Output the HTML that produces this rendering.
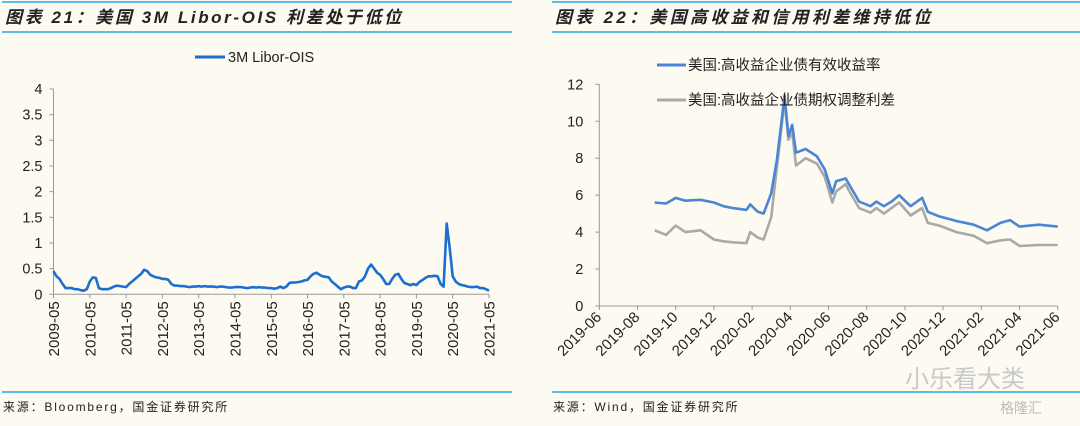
<!DOCTYPE html>
<html><head><meta charset="utf-8">
<style>
body{margin:0;background:#fdfaf1;width:1080px;height:426px;overflow:hidden;font-family:"Liberation Sans","Noto Sans CJK SC",sans-serif}
svg{display:block}
</style></head>
<body>
<svg width="1080" height="426" viewBox="0 0 1080 426" xmlns="http://www.w3.org/2000/svg">
<rect width="1080" height="426" fill="#fdfaf1"/>
<g id="left">
<line x1="2" y1="2" x2="512" y2="2" stroke="#2aa8e8" stroke-width="1.5"/>
<line x1="2" y1="32" x2="512" y2="32" stroke="#2aa8e8" stroke-width="1.5"/>
<text x="5" y="23" font-size="17" font-style="italic" font-weight="bold" fill="#222" letter-spacing="2.6">图表 21：美国 3M Libor-OIS 利差处于低位</text>
<line x1="195" y1="57" x2="225" y2="57" stroke="#1b6fd0" stroke-width="3"/>
<text x="228" y="62" font-size="14.5" fill="#222">3M Libor-OIS</text>
<g id="laxis"></g>
<path id="lline" fill="none" stroke="#1b6fd0" stroke-width="2.6" stroke-linejoin="round"/>
<line x1="2" y1="392" x2="512" y2="392" stroke="#2aa8e8" stroke-width="1.5"/>
<text x="3" y="411" font-size="12" fill="#222" letter-spacing="1.8">来源：Bloomberg，国金证券研究所</text>
</g>
<g id="right">
<line x1="552" y1="2" x2="1080" y2="2" stroke="#2aa8e8" stroke-width="1.5"/>
<line x1="552" y1="32" x2="1080" y2="32" stroke="#2aa8e8" stroke-width="1.5"/>
<text x="555" y="23" font-size="17" font-style="italic" font-weight="bold" fill="#222" letter-spacing="3.3">图表 22：美国高收益和信用利差维持低位</text>
<g id="raxis"></g>
<path id="gline" fill="none" stroke="#a9a9a9" stroke-width="2.6" stroke-linejoin="round"/>
<path id="bline" fill="none" stroke="#4a86d4" stroke-width="2.6" stroke-linejoin="round"/>
<line x1="657" y1="65" x2="686" y2="65" stroke="#4a86d4" stroke-width="3"/>
<text x="688" y="70" font-size="14.5" fill="#222">美国:高收益企业债有效收益率</text>
<line x1="657" y1="100" x2="686" y2="100" stroke="#a9a9a9" stroke-width="3"/>
<text x="688" y="105" font-size="14.5" fill="#222">美国:高收益企业债期权调整利差</text>
<text x="905" y="387" font-size="24" fill="#c8c8c8">小乐看大类</text>
<line x1="552" y1="392" x2="1080" y2="392" stroke="#2aa8e8" stroke-width="1.5"/>
<text x="553" y="411" font-size="12" fill="#222" letter-spacing="1.8">来源：Wind，国金证券研究所</text>
<text x="1000" y="413" font-size="14" fill="#bbb">格隆汇</text>
</g>
</svg>
<script>
// Left chart data: monthly from 2009-05
const liborVals=[0.45,0.35,0.3,0.2,0.12,0.12,0.12,0.1,
0.1,0.08,0.07,0.1,0.25,0.33,0.32,0.12,0.1,0.1,0.1,0.12,
0.15,0.17,0.16,0.15,0.14,0.2,0.25,0.3,0.35,0.4,0.48,0.45,
0.38,0.35,0.33,0.32,0.3,0.3,0.28,0.2,0.17,0.17,0.16,0.16,
0.15,0.14,0.15,0.15,0.16,0.15,0.16,0.15,0.15,0.15,0.14,0.15,
0.15,0.14,0.13,0.13,0.14,0.14,0.14,0.13,0.12,0.13,0.14,0.13,
0.14,0.13,0.13,0.12,0.12,0.11,0.12,0.15,0.12,0.15,0.22,0.23,
0.23,0.24,0.25,0.27,0.28,0.35,0.4,0.42,0.38,0.35,0.34,0.33,
0.25,0.2,0.15,0.1,0.13,0.15,0.15,0.12,0.12,0.25,0.27,0.35,
0.5,0.58,0.5,0.42,0.38,0.3,0.2,0.2,0.3,0.38,0.4,0.3,
0.22,0.2,0.18,0.2,0.18,0.24,0.28,0.32,0.35,0.35,0.36,0.35,
0.2,0.15,1.38,0.9,0.35,0.25,0.2,0.18,0.17,0.15,0.14,0.14,
0.15,0.12,0.12,0.1,0.07];
const liborYTicks=["0","0.5","1","1.5","2","2.5","3","3.5","4"];
const liborXTicks=["2009-05","2010-05","2011-05","2012-05","2013-05","2014-05","2015-05","2016-05","2017-05","2018-05","2019-05","2020-05","2021-05"];
// Right chart data: months since 2019-06
const hyDates=[2.9,3.5,4.0,4.5,5.3,6.0,6.5,7.0,7.7,7.9,8.3,8.6,9.0,9.3,9.7,9.9,10.1,10.3,10.8,11.4,11.8,12.2,12.4,12.9,13.1,13.6,14.2,14.5,14.9,15.3,15.7,16.3,16.9,17.2,17.8,18.7,19.6,20.3,21.0,21.5,22.0,23.0,24.0];
const hyYield=[5.6,5.55,5.85,5.7,5.75,5.6,5.4,5.3,5.2,5.5,5.1,5.0,6.1,7.9,11.4,9.2,9.8,8.3,8.5,8.1,7.4,6.1,6.75,6.9,6.55,5.65,5.4,5.65,5.4,5.65,6.0,5.4,5.85,5.1,4.85,4.6,4.4,4.1,4.5,4.65,4.3,4.4,4.3];
const hyOAS=[4.1,3.85,4.35,4.0,4.1,3.6,3.5,3.45,3.4,4.0,3.7,3.6,4.8,7.5,11.1,9.0,9.4,7.6,8.0,7.7,7.0,5.6,6.2,6.6,6.2,5.3,5.05,5.3,5.0,5.3,5.6,4.9,5.3,4.5,4.35,4.0,3.8,3.4,3.55,3.6,3.25,3.3,3.3];
const hyYTicks=["0","2","4","6","8","10","12"];
const hyXTicks=["2019-06","2019-08","2019-10","2019-12","2020-02","2020-04","2020-06","2020-08","2020-10","2020-12","2021-02","2021-04","2021-06"];

const NS="http://www.w3.org/2000/svg";
function mk(tag,attrs,parent,txt){const e=document.createElementNS(NS,tag);for(const k in attrs)e.setAttribute(k,attrs[k]);if(txt!==undefined)e.textContent=txt;parent.appendChild(e);return e;}

// Left axes
const lx0=53.5,lx1=489,ly0=294.3,ly1=89;
const lxs=i=>lx0+(lx1-lx0)*i/144;
const lys=v=>ly0-(ly0-ly1)*v/4;
const la=document.getElementById('laxis');
mk('line',{x1:lx0,y1:ly1,x2:lx0,y2:ly0,stroke:'#999','stroke-width':1},la);
mk('line',{x1:lx0,y1:ly0,x2:lx1,y2:ly0,stroke:'#999','stroke-width':1},la);
liborYTicks.forEach((t,i)=>{const y=lys(parseFloat(t));
 mk('line',{x1:lx0-4,y1:y,x2:lx0,y2:y,stroke:'#999'},la);
 const e=mk('text',{x:lx0-11,y:y+5,'font-size':14.5,'text-anchor':'end',fill:'#222'},la,t);
 
 
});
liborXTicks.forEach((t,i)=>{const x=lxs(i*12);
 mk('line',{x1:x,y1:ly0,x2:x,y2:ly0+4,stroke:'#999'},la);
 const e=mk('text',{x:0,y:0,'font-size':15,'text-anchor':'end',fill:'#222',transform:`translate(${x+5.5},${ly0+7}) rotate(-90)`},la,t);
 
 
});
document.getElementById('lline').setAttribute('d',liborVals.map((v,i)=>(i?'L':'M')+lxs(i).toFixed(1)+','+lys(v).toFixed(1)).join(''));

// Right axes
const rx0=599.3,rx1=1057.7,ry0=306,ry1=84.3;
const rxs=m=>rx0+(rx1-rx0)*m/24;
const rys=v=>ry0-(ry0-ry1)*v/12;
const ra=document.getElementById('raxis');
mk('line',{x1:rx0,y1:ry1,x2:rx0,y2:ry0,stroke:'#999'},ra);
mk('line',{x1:rx0,y1:ry0,x2:rx1,y2:ry0,stroke:'#999'},ra);
hyYTicks.forEach(t=>{const y=rys(parseFloat(t));
 mk('line',{x1:rx0-4,y1:y,x2:rx0,y2:y,stroke:'#999'},ra);
 const e=mk('text',{x:rx0-16,y:y+5,'font-size':14.5,'text-anchor':'end',fill:'#222'},ra,t);
 
 
});
hyXTicks.forEach((t,i)=>{const x=rxs(i*2);
 mk('line',{x1:x,y1:ry0,x2:x,y2:ry0+4,stroke:'#999'},ra);
 const e=mk('text',{x:0,y:0,'font-size':15,'text-anchor':'end',fill:'#222',transform:`translate(${x+3},${ry0+12}) rotate(-45)`},ra,t);
 
 
});
const path=(vals)=>vals.map((v,i)=>(i?'L':'M')+rxs(hyDates[i]).toFixed(1)+','+rys(v).toFixed(1)).join('');
document.getElementById('bline').setAttribute('d',path(hyYield));
document.getElementById('gline').setAttribute('d',path(hyOAS));
</script>
</body></html>
